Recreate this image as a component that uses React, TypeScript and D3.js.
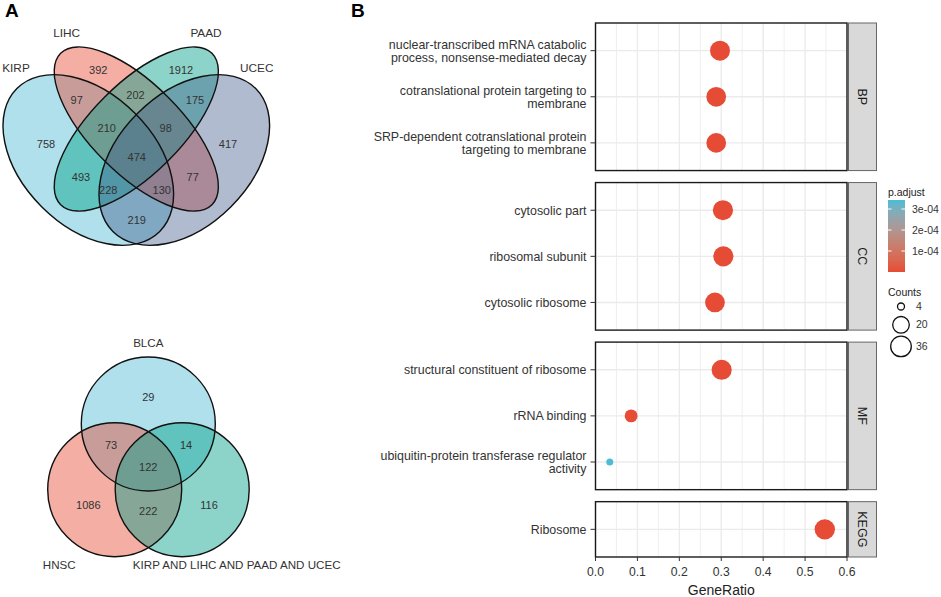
import * as d3 from 'd3'

// ---------- Panel A: four-set Venn ----------
const quadSets = ['KIRP', 'LIHC', 'PAAD', 'UCEC']
const quadColors = ['#4DBBD5', '#E64B35', '#00A087', '#3C5488']
// region counts, top to bottom, left to right
const quadCounts = [392, 1912, 97, 202, 175, 758, 210, 98, 417, 474, 493, 77, 228, 130, 219]

// ---------- Panel A: three-set Venn ----------
const triSets = ['BLCA', 'HNSC', 'KIRP AND LIHC AND PAAD AND UCEC']
const triColors = ['#4DBBD5', '#E64B35', '#00A087']
const triCounts = [29, 73, 14, 122, 1086, 222, 116]

// ---------- Panel B: enrichment dot plot ----------
const ontologies = ['BP', 'CC', 'MF', 'KEGG']
const termNames = [
  'nuclear-transcribed mRNA catabolic\nprocess, nonsense-mediated decay',
  'cotranslational protein targeting to\nmembrane',
  'SRP-dependent cotranslational protein\ntargeting to membrane',
  'cytosolic part',
  'ribosomal subunit',
  'cytosolic ribosome',
  'structural constituent of ribosome',
  'rRNA binding',
  'ubiquitin-protein transferase regulator\nactivity',
  'Ribosome',
]
const termOntology = ['BP', 'BP', 'BP', 'CC', 'CC', 'CC', 'MF', 'MF', 'MF', 'KEGG']
const geneRatio = [0.297, 0.288, 0.288, 0.304, 0.305, 0.285, 0.301, 0.085, 0.034, 0.547]
const geneCounts = [33, 32, 32, 34, 34, 32, 34, 10, 4, 35]
const pAdjust = [3.1e-22, 1.4e-21, 1.4e-21, 5.2e-23, 8.0e-23, 4.7e-21, 2.6e-24, 1.9e-6, 3.43e-4, 4.1e-40]
const xTicks = [0, 0.1, 0.2, 0.3, 0.4, 0.5, 0.6]
const colorTicks = [1e-4, 2e-4, 3e-4]
const sizeBreaks = [4, 20, 36]

// ---------- layout ----------
const W = 941
const H = 597
const FONT = '"Liberation Sans", Arial, Helvetica, sans-serif'
const TXT = '#333333'

// quad venn geometry (px): outer ellipses are fatter than the inner pair
const quadEllipses = [
  { cx: 88.3, cy: 160, rx: 101, ry: 66, rot: 45, alpha: 0.45 },
  { cx: 136.3, cy: 129, rx: 107, ry: 45, rot: 45, alpha: 0.45 },
  { cx: 136.3, cy: 129, rx: 107, ry: 45, rot: -45, alpha: 0.45 },
  { cx: 184.3, cy: 160, rx: 101, ry: 66, rot: -45, alpha: 0.4 },
]
const quadSetLabelXY = [[16, 68], [66.7, 33.3], [206, 33.3], [256.7, 68]]
const quadCountXY = [
  [98.3, 70], [181, 70], [76.7, 100], [135.5, 95], [195, 100],
  [46, 144], [106.7, 127.7], [165.7, 127.7], [228, 144], [136.7, 157],
  [81, 177], [192.7, 177], [108.3, 190], [161.7, 190], [136.7, 220],
]

const triCircles = [
  { cx: 148.3, cy: 424 },
  { cx: 114.7, cy: 489.7 },
  { cx: 182.2, cy: 489.7 },
]
const triR = 67
const triSetLabelXY = [[148.3, 342.7], [59.3, 565], [236.7, 565]]
const triCountXY = [
  [148.3, 396.7], [111, 445], [186, 445], [148.3, 466.7], [88.3, 505], [148.3, 511], [209, 505],
]

// dot plot
const plotLeft = 595.5
const plotRight = 847
const stripLeft = 848.5
const stripRight = 876.5
const panelTop = 23
const panelBottom = 557
const panelGap = 12

function App() {
  const x = d3.scaleLinear().domain([0, 0.6]).range([plotLeft, plotRight])
  const minorTicks = d3.range(0.05, 0.6, 0.1)

  // facet panels with free space
  const rowsPer = ontologies.map(o => termOntology.filter(t => t === o).length)
  const units = rowsPer.map(n => n - 1 + 1.2)
  const unit = (panelBottom - panelTop - panelGap * (ontologies.length - 1)) / d3.sum(units)
  let cursor = panelTop
  const panels = ontologies.map((o, i) => {
    const top = cursor
    const bottom = top + units[i] * unit
    cursor = bottom + panelGap
    const idx = termOntology.map((t, j) => (t === o ? j : -1)).filter(j => j >= 0)
    const y = d3.scalePoint<number>().domain(idx).range([top, bottom]).padding(0.6)
    return { o, top, bottom, idx, y }
  })

  const pMin = d3.min(pAdjust)!
  const pMax = d3.max(pAdjust)!
  const color = d3
    .scaleLinear<string>()
    .domain([pMin, pMax])
    .range(['#E64B35', '#4DBBD5'])
    .interpolate(d3.interpolateLab)

  const sizeNorm = d3.scaleLinear().domain([4, 36]).range([0, 1]).clamp(true)
  const rScale = d3.scaleLinear().domain([0, 1]).range([3.5, 10.3])
  const radius = (c: number) => rScale(Math.sqrt(sizeNorm(c)))

  // legend
  const cbLeft = 888
  const cbWidth = 17
  const cbTop = 200
  const cbBottom = 272
  const cbY = d3.scaleLinear().domain([pMin, pMax]).range([cbBottom, cbTop])
  const gradStops = d3.range(0, 1.0001, 0.1)

  let keyY = 298
  const sizeKeys = sizeBreaks.map(b => {
    const r = radius(b)
    const h = Math.max(17, 2 * r + 3)
    const cy = keyY + h / 2
    keyY += h
    return { b, r, cy }
  })

  return (
    <svg
      width={W}
      height={H}
      style={{ position: 'absolute', left: 0, top: 0, background: '#fff' }}
      fontFamily={FONT}
    >
      <defs>
        <linearGradient id="padj-grad" x1="0" y1="1" x2="0" y2="0">
          {gradStops.map(t => (
            <stop key={t} offset={t} stopColor={color(pMin + t * (pMax - pMin))} />
          ))}
        </linearGradient>
      </defs>

      {/* panel letters */}
      <text x={5} y={17} fontSize={19} fontWeight="bold" fill="#000">A</text>
      <text x={351} y={17} fontSize={19} fontWeight="bold" fill="#000">B</text>

      {/* four-set venn */}
      <g>
        {quadEllipses.map((e, i) => (
          <ellipse
            key={quadSets[i]}
            cx={e.cx}
            cy={e.cy}
            rx={e.rx}
            ry={e.ry}
            transform={`rotate(${e.rot} ${e.cx} ${e.cy})`}
            fill={quadColors[i]}
            fillOpacity={e.alpha}
          />
        ))}
        {quadEllipses.map((e, i) => (
          <ellipse
            key={quadSets[i] + '-o'}
            cx={e.cx}
            cy={e.cy}
            rx={e.rx}
            ry={e.ry}
            transform={`rotate(${e.rot} ${e.cx} ${e.cy})`}
            fill="none"
            stroke="#111"
            strokeWidth={1.4}
          />
        ))}
        {quadSets.map((s, i) => (
          <text key={s} x={quadSetLabelXY[i][0]} y={quadSetLabelXY[i][1]} dy="0.35em"
            textAnchor="middle" fontSize={11.8} fill={TXT}>{s}</text>
        ))}
        {quadCounts.map((c, i) => (
          <text key={i} x={quadCountXY[i][0]} y={quadCountXY[i][1]} dy="0.35em"
            textAnchor="middle" fontSize={11} fill={TXT}>{c}</text>
        ))}
      </g>

      {/* three-set venn */}
      <g>
        {triCircles.map((c, i) => (
          <circle key={triSets[i]} cx={c.cx} cy={c.cy} r={triR} fill={triColors[i]} fillOpacity={0.45} />
        ))}
        {triCircles.map((c, i) => (
          <circle key={triSets[i] + '-o'} cx={c.cx} cy={c.cy} r={triR} fill="none" stroke="#111" strokeWidth={1.4} />
        ))}
        {triSets.map((s, i) => (
          <text key={s} x={triSetLabelXY[i][0]} y={triSetLabelXY[i][1]} dy="0.35em"
            textAnchor="middle" fontSize={11.6} fill={TXT}>{s}</text>
        ))}
        {triCounts.map((c, i) => (
          <text key={i} x={triCountXY[i][0]} y={triCountXY[i][1]} dy="0.35em"
            textAnchor="middle" fontSize={11} fill={TXT}>{c}</text>
        ))}
      </g>

      {/* dot plot facets */}
      {panels.map(p => (
        <g key={p.o}>
          <rect x={plotLeft} y={p.top} width={plotRight - plotLeft} height={p.bottom - p.top} fill="#fff" />
          {minorTicks.map(t => (
            <line key={'m' + t} x1={x(t)} x2={x(t)} y1={p.top} y2={p.bottom} stroke="#EBEBEB" strokeWidth={0.8} />
          ))}
          {xTicks.map(t => (
            <line key={'M' + t} x1={x(t)} x2={x(t)} y1={p.top} y2={p.bottom} stroke="#EBEBEB" strokeWidth={1.4} />
          ))}
          {p.idx.map(j => (
            <line key={'h' + j} x1={plotLeft} x2={plotRight} y1={p.y(j)} y2={p.y(j)} stroke="#EBEBEB" strokeWidth={1.4} />
          ))}
          {p.idx.map(j => (
            <circle key={'d' + j} cx={x(geneRatio[j])} cy={p.y(j)} r={radius(geneCounts[j])} fill={color(pAdjust[j])} />
          ))}
          <rect x={plotLeft} y={p.top} width={plotRight - plotLeft} height={p.bottom - p.top}
            fill="none" stroke="#1a1a1a" strokeWidth={1.4} />
          {/* strip */}
          <rect x={stripLeft} y={p.top} width={stripRight - stripLeft} height={p.bottom - p.top}
            fill="#D9D9D9" stroke="#666" strokeWidth={1} />
          <text
            transform={`translate(${(stripLeft + stripRight) / 2},${(p.top + p.bottom) / 2}) rotate(90)`}
            textAnchor="middle" dy="0.35em" fontSize={12.5} fill="#1a1a1a"
          >{p.o}</text>
          {/* y axis ticks + labels */}
          {p.idx.map(j => {
            const lines = termNames[j].split('\n')
            const yy = p.y(j)!
            return (
              <g key={'y' + j}>
                <line x1={plotLeft - 5} x2={plotLeft} y1={yy} y2={yy} stroke="#333" strokeWidth={1} />
                <text x={plotLeft - 9} y={yy - ((lines.length - 1) * 13) / 2} textAnchor="end"
                  fontSize={12.4} fill={TXT}>
                  {lines.map((l, k) => (
                    <tspan key={k} x={plotLeft - 9} dy={k === 0 ? '0.35em' : 13}>{l}</tspan>
                  ))}
                </text>
              </g>
            )
          })}
        </g>
      ))}

      {/* x axis */}
      <g>
        {xTicks.map(t => (
          <g key={t}>
            <line x1={x(t)} x2={x(t)} y1={panelBottom} y2={panelBottom + 4} stroke="#333" strokeWidth={1} />
            <text x={x(t)} y={572} dy="0.35em" textAnchor="middle" fontSize={12.2} fill={TXT}>
              {d3.format('.1f')(t)}
            </text>
          </g>
        ))}
        <text x={(plotLeft + plotRight) / 2} y={590} dy="0.35em" textAnchor="middle" fontSize={14} fill="#222">
          GeneRatio
        </text>
      </g>

      {/* color legend */}
      <g>
        <text x={cbLeft} y={192.5} dy="0.35em" fontSize={10.5} fill="#222">p.adjust</text>
        <rect x={cbLeft} y={cbTop} width={cbWidth} height={cbBottom - cbTop} fill="url(#padj-grad)" />
        {colorTicks.map(t => (
          <g key={t}>
            <line x1={cbLeft} x2={cbLeft + 3.5} y1={cbY(t)} y2={cbY(t)} stroke="#fff" strokeWidth={1} />
            <line x1={cbLeft + cbWidth - 3.5} x2={cbLeft + cbWidth} y1={cbY(t)} y2={cbY(t)} stroke="#fff" strokeWidth={1} />
            <text x={cbLeft + cbWidth + 7} y={cbY(t)} dy="0.35em" fontSize={10.5} fill={TXT}>
              {t.toExponential(0).replace(/e-(\d)$/, 'e-0$1')}
            </text>
          </g>
        ))}
      </g>

      {/* size legend */}
      <g>
        <text x={cbLeft} y={292} dy="0.35em" fontSize={10.5} fill="#222">Counts</text>
        {sizeKeys.map(k => (
          <g key={k.b}>
            <circle cx={901} cy={k.cy} r={k.r} fill="none" stroke="#111" strokeWidth={1.3} />
            <text x={916} y={k.cy} dy="0.35em" fontSize={10.5} fill={TXT}>{k.b}</text>
          </g>
        ))}
      </g>
    </svg>
  )
}

export default App
